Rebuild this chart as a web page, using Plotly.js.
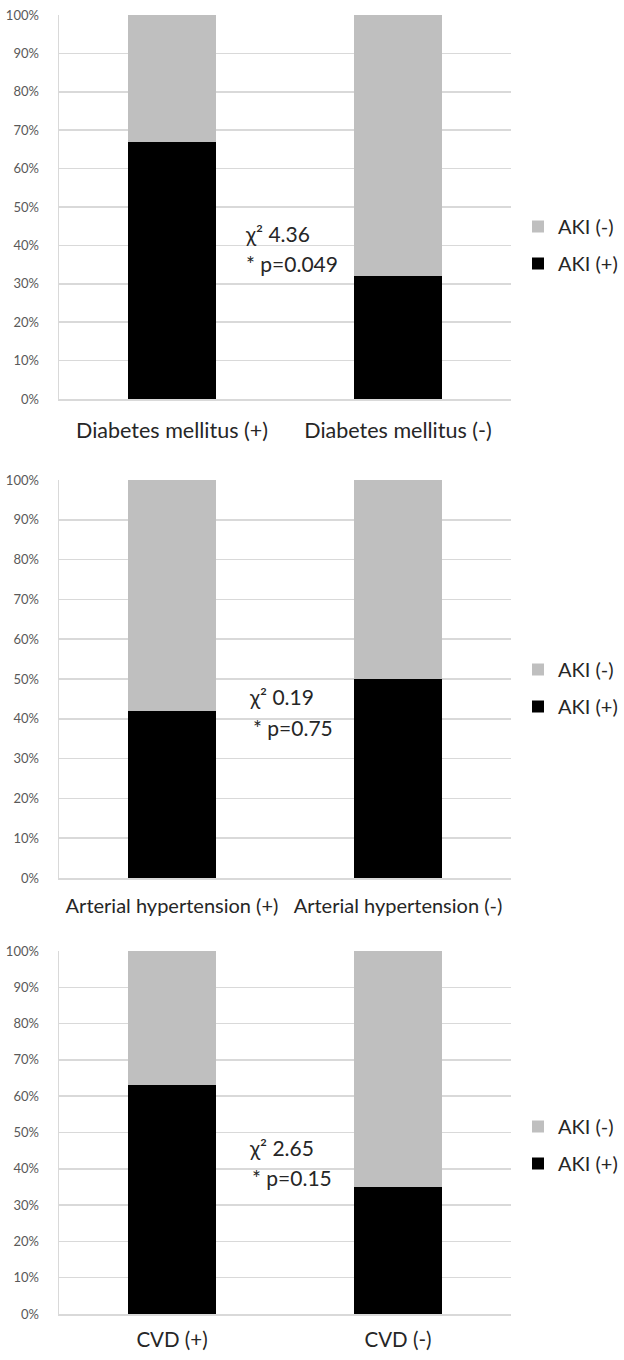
<!DOCTYPE html>
<html>
<head>
<meta charset="utf-8">
<script src="https://cdn.plot.ly/plotly-3.0.1.min.js"></script>
<style>html,body{margin:0;padding:0;background:#fff}</style>
</head>
<body>
<div id="chart" style="width:624px;height:1360px"></div>
<script>
// Share of patients with / without acute kidney injury per comorbidity group (%)
const diabetesCats = ['Diabetes mellitus (+)', 'Diabetes mellitus (-)'];
const diabetesAkiPos = [67, 32];
const diabetesAkiNeg = [33, 68];

const hypertensionCats = ['Arterial hypertension (+)', 'Arterial hypertension (-)'];
const hypertensionAkiPos = [42, 50];
const hypertensionAkiNeg = [58, 50];

const cvdCats = ['CVD (+)', 'CVD (-)'];
const cvdAkiPos = [63, 35];
const cvdAkiNeg = [37, 65];

const seriesNames = ['AKI (+)', 'AKI (-)'];
const chiSquare = ['4.36', '0.19', '2.65'];
const pValues = ['0.049', '0.75', '0.15'];
const yTickValues = [0, 10, 20, 30, 40, 50, 60, 70, 80, 90, 100];

const H = 1360, W = 624;
const py = px => 1 - px / H;
const pxX = px => px / W;

const FONT = 'Lato, "Open Sans", sans-serif';
const BLACK = '#000000';
const GREY = '#bfbfbf';
const GRID = '#d9d9d9';

// Each panel: pixel band of its plot area, label offset, legend and statistic placement
const panels = [
  { cats: diabetesCats, pos: diabetesAkiPos, neg: diabetesAkiNeg, top: 15, bottom: 399, standoff: 12, labelSize: 21.5, legendY: 245, statY: 233, statX: [243, 244] },
  { cats: hypertensionCats, pos: hypertensionAkiPos, neg: hypertensionAkiNeg, top: 480, bottom: 878, standoff: 9, labelSize: 20, legendY: 688, statY: 697, statX: [247, 251] },
  { cats: cvdCats, pos: cvdAkiPos, neg: cvdAkiNeg, top: 951, bottom: 1314, standoff: 7, labelSize: 20.5, legendY: 1145, statY: 1147, statX: [247, 250] }
];

const data = [];
const layout = {
  width: W, height: H,
  margin: { l: 0, r: 0, t: 0, b: 0 },
  paper_bgcolor: '#ffffff',
  plot_bgcolor: '#ffffff',
  barmode: 'stack',
  bargap: 0.61,
  font: { family: FONT, color: '#404040' },
  annotations: []
};

panels.forEach((p, i) => {
  const n = i === 0 ? '' : String(i + 1);
  const legendKey = 'legend' + n;
  data.push({
    type: 'bar', x: p.cats, y: p.pos, name: seriesNames[0],
    xaxis: 'x' + n, yaxis: 'y' + n,
    marker: { color: BLACK },
    legend: legendKey, legendgroup: 'pos' + i, legendrank: 2
  });
  data.push({
    type: 'bar', x: p.cats, y: p.neg, name: seriesNames[1],
    xaxis: 'x' + n, yaxis: 'y' + n,
    marker: { color: GREY },
    legend: legendKey, legendgroup: 'neg' + i, legendrank: 1
  });

  layout['xaxis' + n] = {
    domain: [pxX(59), pxX(511)],
    anchor: 'y' + n,
    type: 'category',
    showline: true, linecolor: GRID, linewidth: 1.5,
    showgrid: false, zeroline: false,
    ticks: '',
    ticklabelstandoff: p.standoff,
    tickfont: { family: FONT, size: p.labelSize, color: '#262626' },
    fixedrange: true
  };
  layout['yaxis' + n] = {
    domain: [py(p.bottom), py(p.top)],
    anchor: 'x' + n,
    range: [0, 100],
    tickvals: yTickValues,
    ticktext: yTickValues.map(v => v + '%'),
    showline: true, linecolor: GRID, linewidth: 1.5,
    showgrid: true, gridcolor: GRID, gridwidth: 1.5,
    zeroline: false,
    ticks: '',
    ticklabelstandoff: 16,
    tickfont: { family: FONT, size: 13, color: '#595959' },
    fixedrange: true
  };
  layout[legendKey] = {
    x: pxX(518), xanchor: 'left',
    y: py(p.legendY), yanchor: 'middle',
    traceorder: 'grouped',
    tracegroupgap: 8,
    bgcolor: 'rgba(0,0,0,0)',
    font: { family: FONT, size: 20, color: '#262626' }
  };

  layout.annotations.push({
    xref: 'paper', yref: 'paper',
    x: pxX(p.statX[0]), y: py(p.statY), xanchor: 'left', yanchor: 'middle',
    text: 'χ² ' + chiSquare[i],
    showarrow: false,
    font: { family: FONT, size: 21, color: '#262626' }
  });
  layout.annotations.push({
    xref: 'paper', yref: 'paper',
    x: pxX(p.statX[1]), y: py(p.statY + 30), xanchor: 'left', yanchor: 'middle',
    text: '* p=' + pValues[i],
    showarrow: false,
    font: { family: FONT, size: 21, color: '#262626' }
  });
});

Plotly.newPlot('chart', data, layout, { displayModeBar: false, staticPlot: true });
</script>
</body>
</html>
